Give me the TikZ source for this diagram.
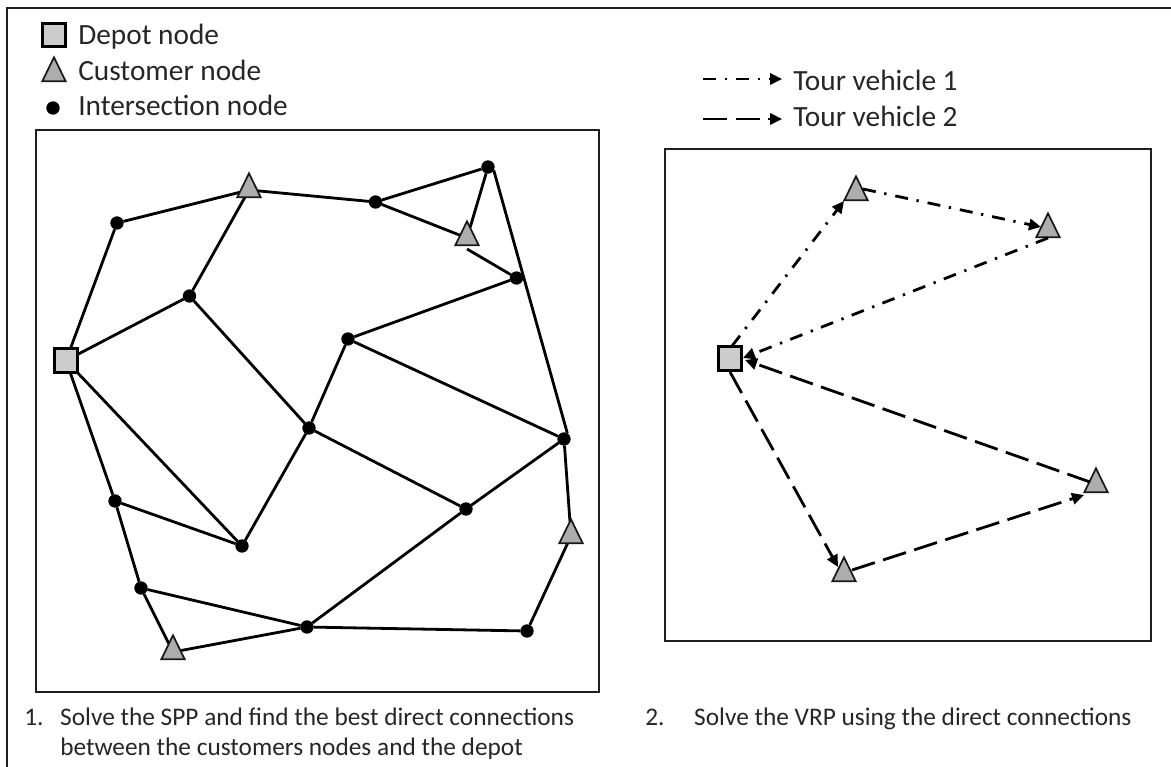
\documentclass[tikz,border=0pt]{standalone}
\usepackage{fontspec}
\setmainfont{Carlito}
\usetikzlibrary{shapes.geometric,arrows.meta,backgrounds}
\tikzset{
  x=0.75pt,y=-0.75pt,
  frame/.style={draw=black!88,line width=1.5pt},
  depot/.style={draw=black,line width=2.1pt,fill=black!20,minimum size=17.5pt,inner sep=0pt,outer sep=0pt},
  customer/.style={draw=black!90,line width=1.3pt,fill=black!32,isosceles triangle,isosceles triangle apex angle=52,shape border rotate=90,minimum height=18pt,inner sep=0pt,outer sep=0pt},
  isect/.style={circle,fill=black,minimum size=10pt,inner sep=0pt,outer sep=0pt},
  road/.style={line width=2.1pt,black},
  tip/.style={-{Triangle[length=9pt,width=8.5pt]}},
  tourone/.style={tip,line width=2.1pt,dash pattern=on 9.75pt off 6.5pt on 1.75pt off 6.75pt},
  tourtwo/.style={tip,line width=2.1pt,dash pattern=on 18pt off 6.5pt},
  label/.style={anchor=base west,inner sep=0pt,font=\fontsize{22}{22}\selectfont,text=black!85},
  steptext/.style={anchor=north west,inner sep=0pt,align=left,font=\fontsize{19}{22.5}\selectfont,text=black!85}
}
\begin{document}
\begin{tikzpicture}
\useasboundingbox (0,0) rectangle (1171,767);
% nodes of the left graph
\node[depot] (D) at (66,360.5) {};
\node[customer] (A) at (249,190) {};
\node[customer] (B) at (467,238) {};
\node[customer] (C) at (571,536) {};
\node[customer] (E) at (173,652) {};
\foreach \n/\x/\y in {a/117/223,b/189.5/296,c/375.5/202,d/488/167,e/516.5/278,f/348/339,g/309/428,h/564/439,i/466/509,j/115/501,k/242/546,l/141/588,m/307/627,n/527/631}
  \node[isect] (\n) at (\x,\y) {};
% nodes of the right graph
\node[depot] (RD) at (730,358.5) {};
\node[customer] (R1) at (856,193) {};
\node[customer] (R2) at (1048,230) {};
\node[customer] (R3) at (844,574) {};
\node[customer] (R4) at (1096,485) {};
% legends
\node[depot] (LD) at (54,35) {};
\node[customer] (LC) at (54,74) {};
\node[isect] (LI) at (53,108) {};
\node[label] (LDt) at (78,45) {Depot node};
\node[label] (LCt) at (78,80) {Customer node};
\node[label] (LIt) at (78,116) {Intersection node};
\node[label] (T1t) at (793,91) {Tour vehicle 1};
\node[label] (T2t) at (793,127) {Tour vehicle 2};
\coordinate (L1a) at (703,79);
\coordinate (L1b) at (782,79);
\coordinate (L2a) at (703,119);
\coordinate (L2b) at (782,119);
\draw[tourone] (L1a) -- (L1b);
\draw[tourtwo] (L2a) -- (L2b);
% captions
\node[steptext] (S1) at (24,708) {\makebox[27pt][l]{1.}Solve the SPP and find the best direct connections\\\hspace*{27pt}between the customers nodes and the depot};
\node[steptext] (S2) at (645,708) {\makebox[36.75pt][l]{2.}Solve the VRP using the direct connections};
\begin{scope}[on background layer]
\coordinate (O1) at (7,767);
\coordinate (O2) at (7,8);
\coordinate (O3) at (1171,8);
\draw[frame] (O1) -- (O2) -- (O3);
\draw[frame] (36,130) rectangle (599,692);
\draw[frame] (665,149) rectangle (1151,641);
\coordinate (Bs) at (467,249);
\draw[road] (Bs) -- (e);
\draw[road] (d.-30) -- (h.60);
\foreach \p/\q in {D/a,a/A,A/c,c/d,d/B,c/B,e/f,A/b,b/D,b/g,D/k,f/g,f/h,g/k,g/i,i/h,j/k,D/j,j/l,l/E,l/m,E/m,m/i,m/n,n/C,C/h}
  \draw[road] (\p) -- (\q);
\end{scope}
\coordinate (r1s) at (732,346);
\coordinate (r1e) at (844,201);
\coordinate (r2s) at (863,189);
\coordinate (r2e) at (1041,227);
\coordinate (r3s) at (1048,238);
\coordinate (r3e) at (743,358);
\coordinate (r4s) at (730,372);
\coordinate (r4e) at (838,567);
\coordinate (r5s) at (852,570);
\coordinate (r5e) at (1084,495);
\coordinate (r6s) at (1090,482);
\coordinate (r6e) at (745,360);
\draw[tourone] (r1s) -- (r1e);
\draw[tourone] (r2s) -- (r2e);
\draw[tourone] (r3s) -- (r3e);
\draw[tourtwo] (r4s) -- (r4e);
\draw[tourtwo] (r5s) -- (r5e);
\draw[tourtwo] (r6s) -- (r6e);
\end{tikzpicture}
\end{document}
